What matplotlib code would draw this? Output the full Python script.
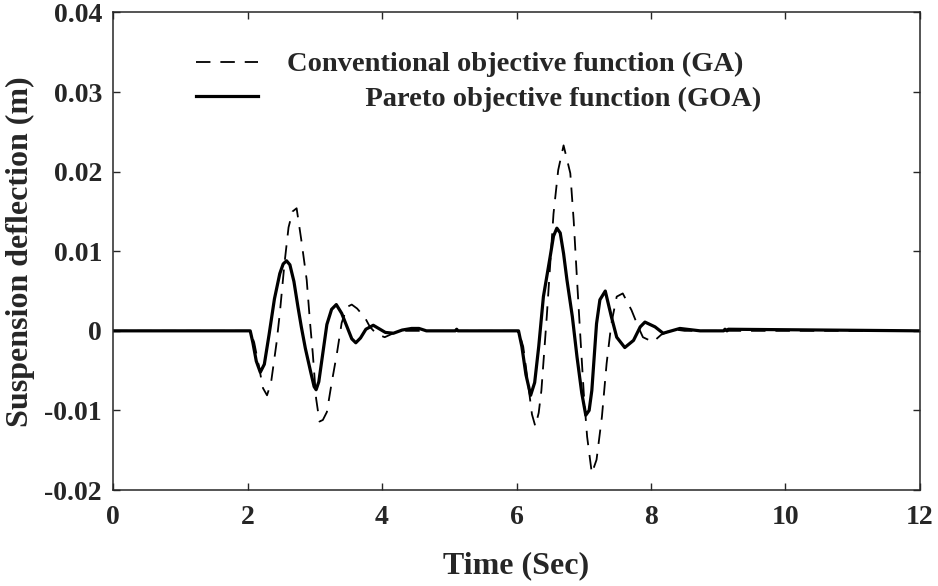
import matplotlib
matplotlib.use("Agg")
import matplotlib.pyplot as plt

# values
ga_time = [0, 2.0, 2.04, 2.10, 2.17, 2.23, 2.29, 2.35, 2.43, 2.48, 2.55, 2.61, 2.67, 2.73,
           2.80, 2.88, 2.93, 2.97, 3.02, 3.07, 3.12, 3.18, 3.25, 3.33, 3.40, 3.48, 3.55,
           3.63, 3.75, 3.82, 3.92, 4.04, 4.17, 4.30, 6.0,
           6.03, 6.10, 6.17, 6.23, 6.28, 6.33, 6.37, 6.45, 6.55, 6.62, 6.70, 6.80, 6.85,
           6.90, 6.95, 7.00, 7.05, 7.12, 7.19, 7.27, 7.34, 7.41, 7.49, 7.58, 7.71, 7.81,
           7.88, 8.03, 8.15, 8.33, 8.50, 12.0]
ga_defl = [0, 0, 0, -0.0015, -0.0045, -0.0072, -0.0081, -0.0065, -0.0016, 0.0022, 0.0085, 0.0130, 0.0150, 0.0154,
           0.0114, 0.0064, 0.0010, -0.0028, -0.0085, -0.0114, -0.0112, -0.0102, -0.0066, -0.0028, 0.0010, 0.0030, 0.0033,
           0.0028, 0.0016, 0.0005, -0.0004, -0.0008, -0.0003, 0.0, 0.0,
           0, -0.0020, -0.0065, -0.0105, -0.0120, -0.0103, -0.0075, 0.0018, 0.0147, 0.0202, 0.0233, 0.0198, 0.0139,
           0.0064, -0.0008, -0.0078, -0.0133, -0.0179, -0.0162, -0.0108, -0.0041, 0.0009, 0.0043, 0.0047, 0.0026, 0.0005,
           -0.0008, -0.0014, -0.0005, 0.0002, 0.0, 0.0]

goa_time = [0, 2.0, 2.04, 2.08, 2.13, 2.19, 2.25, 2.32, 2.40, 2.48, 2.53, 2.58, 2.63, 2.69, 2.75, 2.80,
            2.86, 2.94, 2.99, 3.02, 3.06, 3.10, 3.18, 3.25, 3.32, 3.40, 3.48, 3.55, 3.61, 3.68, 3.76,
            3.87, 3.97, 4.05, 4.17, 4.30, 4.44, 4.55, 4.66, 5.09, 5.11, 5.13, 6.0,
            6.03, 6.08, 6.14, 6.21, 6.27, 6.33, 6.40, 6.50, 6.55, 6.60, 6.65, 6.70, 6.75, 6.83, 6.90,
            6.97, 7.03, 7.08, 7.12, 7.19, 7.24, 7.32, 7.41, 7.49, 7.61, 7.74, 7.84, 7.91, 8.06,
            8.18, 8.43, 8.73, 9.08, 9.10, 9.13, 9.15, 12.0]
goa_defl = [0, 0, 0, -0.0015, -0.0038, -0.0052, -0.0042, -0.0005, 0.0040, 0.0072, 0.0084, 0.0088, 0.0083, 0.0062, 0.0030, 0.0005,
            -0.0022, -0.0052, -0.0070, -0.0074, -0.0064, -0.0040, 0.0008, 0.0027, 0.0033, 0.0022, 0.0005, -0.0010, -0.0015, -0.0009, 0.0002,
            0.0007, 0.0002, -0.0002, -0.0003, 0.0001, 0.0003, 0.0003, 0.0, 0.0, 0.0002, 0.0, 0.0,
            0, -0.0020, -0.0055, -0.0081, -0.0065, -0.0020, 0.0043, 0.0093, 0.0119, 0.0129, 0.0123, 0.0097, 0.0064, 0.0018, -0.0033,
            -0.0078, -0.0106, -0.0100, -0.0075, 0.0009, 0.0039, 0.0050, 0.0018, -0.0008, -0.0021, -0.0012, 0.0005, 0.0011, 0.0005,
            -0.0003, 0.0003, 0.0, 0.0, 0.0002, 0.0, 0.0002, 0.0]

x_ticks = [0, 2, 4, 6, 8, 10, 12]
y_ticks = [-0.02, -0.01, 0, 0.01, 0.02, 0.03, 0.04]
y_tick_labels = ['-0.02', '-0.01', '0', '0.01', '0.02', '0.03', '0.04']

plt.rcParams['font.family'] = 'Liberation Serif'
plt.rcParams['font.weight'] = 'bold'
text_color = '#262626'

fig = plt.figure(figsize=(9.38, 5.86), dpi=100)
ax = fig.add_axes([0.1205, 0.1638, 0.8603, 0.8149])

ax.plot(ga_time, ga_defl, color='black', linewidth=1.3, linestyle=(0, (8, 5.5)),
        label='Conventional objective function (GA)')
ax.plot(goa_time, goa_defl, color='black', linewidth=2.3,
        label='           Pareto objective function (GOA)')

ax.set_xlim(0, 12)
ax.set_ylim(-0.02, 0.04)
ax.set_xticks(x_ticks)
ax.set_xticklabels([str(v) for v in x_ticks])
ax.set_yticks(y_ticks)
ax.set_yticklabels(y_tick_labels)
ax.tick_params(direction='in', length=5, width=1, top=True, right=True,
               labelsize=20, colors=text_color)
ax.tick_params(axis='y', pad=8)
ax.tick_params(axis='x', pad=11)
for s in ax.spines.values():
    s.set_linewidth(1.1)
    s.set_color(text_color)

ax.set_xlabel('Time (Sec)', fontsize=23, fontweight='bold', color=text_color, labelpad=15)
ax.set_ylabel('Suspension deflection (m)', fontsize=23, fontweight='bold', color=text_color, labelpad=7)

leg = ax.legend(loc='upper left', bbox_to_anchor=(0.085, 0.948), frameon=False,
                fontsize=20.5, handlelength=2.2, handletextpad=1.0, labelspacing=0.3,
                borderpad=0)
for txt in leg.get_texts():
    txt.set_color(text_color)

fig.savefig('out.png', dpi=100)
